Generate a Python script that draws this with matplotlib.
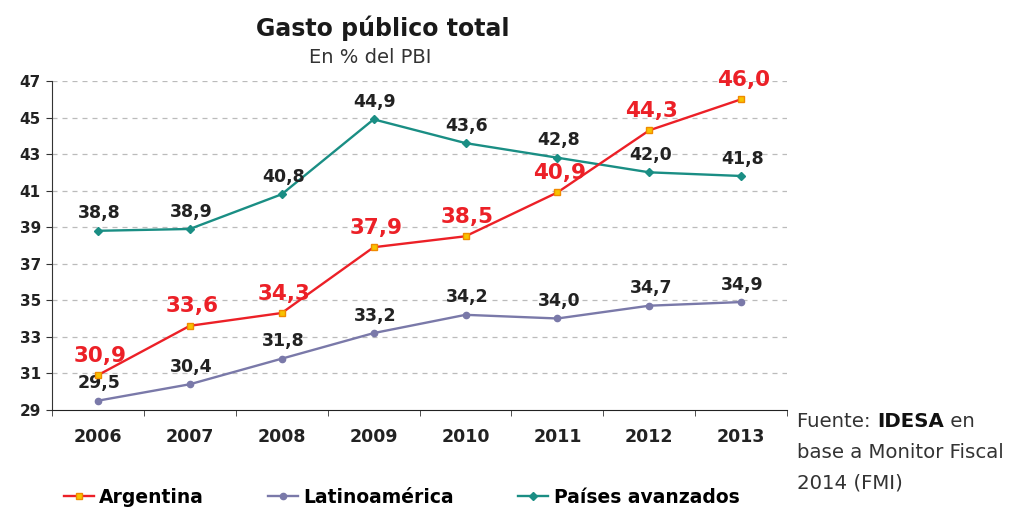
import matplotlib.pyplot as plt
from matplotlib.lines import Line2D

# data
years = ['2006', '2007', '2008', '2009', '2010', '2011', '2012', '2013']
argentina = [30.9, 33.6, 34.3, 37.9, 38.5, 40.9, 44.3, 46.0]
latam = [29.5, 30.4, 31.8, 33.2, 34.2, 34.0, 34.7, 34.9]
avanzados = [38.8, 38.9, 40.8, 44.9, 43.6, 42.8, 42.0, 41.8]
y_ticks = [29, 31, 33, 35, 37, 39, 41, 43, 45, 47]

red = '#ec2027'
purple = '#7a79a9'
teal = '#1a8e84'
font = 'DejaVu Sans'

fig = plt.figure(figsize=(10.14, 5.11), dpi=100)
ax = fig.add_axes([0.0513, 0.198, 0.725, 0.6435])

x = list(range(len(years)))
ax.plot(x, avanzados, color=teal, lw=1.7, marker='D', ms=4, zorder=3)
ax.plot(x, latam, color=purple, lw=1.7, marker='o', ms=4.5, zorder=3)
ax.plot(x, argentina, color=red, lw=1.7, marker='s', ms=5,
        mfc='#f7c300', mec='#f08a00', zorder=4)

# data labels
def fmt(v):
    return f'{v:.1f}'.replace('.', ',')

for series in (avanzados, latam):
    for xi, v in zip(x, series):
        ax.annotate(fmt(v), (xi, v), xytext=(1, 12.5), textcoords='offset points',
                    ha='center', va='center', fontsize=12.5, fontweight='bold',
                    family=font, color='#222222')
for xi, v in zip(x, argentina):
    ax.annotate(fmt(v), (xi, v), xytext=(1.5, 14), textcoords='offset points',
                ha='center', va='center', fontsize=15.5, fontweight='bold',
                family=font, color=red)

# axes
ax.set_xlim(-0.5, 7.5)
ax.set_ylim(29, 47)
ax.set_yticks(y_ticks)
ax.set_yticklabels([str(t) for t in y_ticks], fontsize=11, fontweight='bold',
                   family=font, color='#222222')
ax.set_xticks(x)
ax.set_xticklabels(years, fontsize=12.5, fontweight='bold', family=font,
                   color='#222222')
ax.set_xticks([i + 0.5 for i in range(-1, 8)], minor=True)
ax.tick_params(axis='x', which='major', length=0, pad=13)
ax.tick_params(axis='x', which='minor', length=4, direction='out', color='#333333')
ax.tick_params(axis='y', length=4, direction='out', color='#333333', pad=4)
for t in y_ticks[1:]:
    ax.axhline(t, color='#bbbbbb', lw=0.9, ls=(0, (4, 4)), zorder=1)
ax.spines['top'].set_visible(False)
ax.spines['right'].set_visible(False)
ax.spines['left'].set_color('#333333')
ax.spines['bottom'].set_color('#222222')

# titles
fig.text(0.377, 0.945, 'Gasto público total', ha='center', va='center',
         fontsize=17, fontweight='bold', family=font, color='#1a1a1a')
fig.text(0.365, 0.888, 'En % del PBI', ha='center', va='center',
         fontsize=14, family=font, color='#333333')

# legend
handles = [
    Line2D([], [], color=red, lw=1.7, marker='s', ms=5, mfc='#f7c300', mec='#f08a00'),
    Line2D([], [], color=purple, lw=1.7, marker='o', ms=4.5),
    Line2D([], [], color=teal, lw=1.7, marker='D', ms=4),
]
fig.legend(handles, ['Argentina', 'Latinoamérica', 'Países avanzados'],
           loc='center', bbox_to_anchor=(0.396, 0.027), ncol=3, frameon=False,
           handlelength=1.6, handletextpad=0.3, columnspacing=3.4,
           prop={'family': font, 'weight': 'bold', 'size': 13.5})

# source note
src = dict(family=font, size=14.2, color='#333333')
t1 = fig.text(0.786, 0.164, 'Fuente: ', va='baseline', **src)
t2 = fig.text(0.786, 0.164, 'IDESA', va='baseline', fontweight='bold',
              family=font, size=14.2, color='#111111')
fig.canvas.draw()
inv = fig.transFigure.inverted()
x2 = inv.transform((t1.get_window_extent().x1, 0))[0]
t2.set_x(x2)
fig.canvas.draw()
x3 = inv.transform((t2.get_window_extent().x1, 0))[0]
fig.text(x3, 0.164, ' en', va='baseline', **src)
fig.text(0.786, 0.104, 'base a Monitor Fiscal', va='baseline', **src)
fig.text(0.786, 0.045, '2014 (FMI)', va='baseline', **src)

fig.savefig('out.png', dpi=100)
